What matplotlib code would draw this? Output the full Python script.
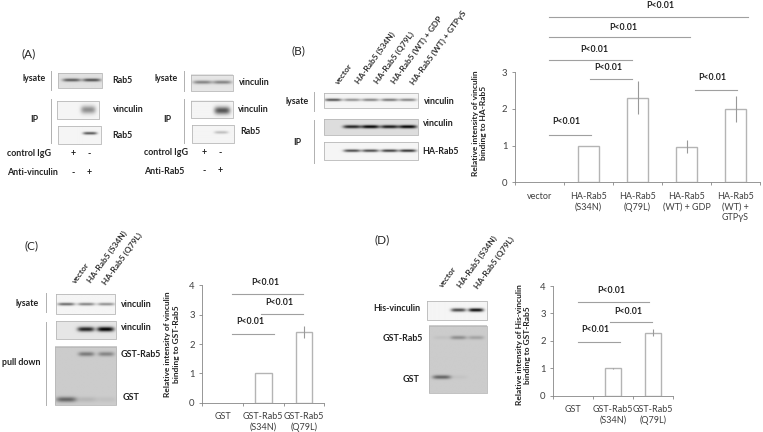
import numpy as np
import matplotlib
matplotlib.use('Agg')
from matplotlib import pyplot as plt

plt.rcParams['font.family'] = ['Lato', 'DejaVu Sans']

W, H = 763, 432

# bar chart data
cats_b = ['vector', 'HA-Rab5\n(S34N)', 'HA-Rab5\n(Q79L)', 'HA-Rab5\n(WT) + GDP', 'HA-Rab5\n(WT) +\nGTPγS']
vals_b = [0, 1.0, 2.3, 0.97, 2.0]
errs_b = [0, 0, 0.45, 0.18, 0.35]
cats_c = ['GST', 'GST-Rab5\n(S34N)', 'GST-Rab5\n(Q79L)']
vals_c = [0, 1.0, 2.4]
errs_c = [0, 0, 0.2]
vals_d = [0, 1.0, 2.3]
errs_d = [0, 0.01, 0.12]

# lane labels above the blots
lanes_b = ['vector', 'HA-Rab5 (S34N)', 'HA-Rab5 (Q79L)', 'HA-Rab5 (WT) + GDP', 'HA-Rab5 (WT) + GTPγS']
lanes_c = ['vector', 'HA-Rab5 (S34N)', 'HA-Rab5 (Q79L)']

# band strengths per lane
a1_lysate = [0.6, 0.65]
a1_vinc = [0, 0.42]
a1_rab = [0, 0.65]
a2_lysate = [0.42, 0.42]
a2_vinc = [0, 0.65]
a2_rab = [0, 0.22]
b_lysate = [0.65, 0.4, 0.45, 0.5, 0.45]
b_vinc = [0, 0.85, 1.0, 0.9, 1.0]
b_ha = [0, 0.7, 0.7, 0.75, 0.8]
c_lysate = [0.55, 0.45, 0.4]
c_vinc = [0, 0.85, 1.0]
c_rab = [0, 0.4, 0.35]
c_gst = [0.5, 0.1, 0.05]
d_his = [0, 0.7, 0.95]
d_rab = [0.05, 0.3, 0.2]
d_gst = [0.5, 0.04, 0]

fig = plt.figure(figsize=(W / 100, H / 100), dpi=100)
px = fig.add_axes([0, 0, 1, 1], zorder=5)
px.set_xlim(0, W)
px.set_ylim(H, 0)
px.axis('off')
px.patch.set_alpha(0)


def blot(x0, x1, y0, y1, rows, bg=0.96):
    # rows: (lane centres, strengths, band y, half width, half height)
    nx, ny = int((x1 - x0) * 2), int((y1 - y0) * 2)
    xx, yy = np.meshgrid(np.linspace(x0, x1, nx), np.linspace(y0, y1, ny))
    img = np.full(xx.shape, bg)
    for lanes, vals, yc, hw, hh in rows:
        for cx, v in zip(lanes, vals):
            prof = np.exp(-((xx - cx) / hw) ** 4) * np.exp(-((yy - yc) / hh) ** 2)
            img -= v * bg * prof
    px.imshow(np.clip(img, 0, 1), extent=(x0, x1, y1, y0), cmap='gray', vmin=0, vmax=1,
              aspect='auto', interpolation='bilinear')
    px.plot([x0, x1, x1, x0, x0], [y0, y0, y1, y1, y0], color='#b8b8b8', lw=0.6)
    px.set_xlim(0, W)
    px.set_ylim(H, 0)


def label(x, y, s, size=6.4, weight='bold', color='#222222', ha='center'):
    px.text(x, y, s, fontsize=size, fontweight=weight, color=color, ha=ha, va='center')


def sep(x, y0, y1):
    px.plot([x, x], [y0, y1], color='#b0b0b0', lw=0.7)


def lane_labels(names, xs, ys, rot=54):
    for n, x, y in zip(names, xs, ys):
        px.text(x, y, n, fontsize=6.0, fontweight='bold', color='#333333', rotation=rot,
                rotation_mode='anchor', ha='left', va='bottom')


def pval(x, y, x0, x1, yl):
    label(x, y, 'P<0.01', size=6.3)
    px.plot([x0, x1], [yl, yl], color='#a0a0a0', lw=0.8)


def chart(x0, x1, y0, ytop, ymax, cats, vals, errs, ylab, labx, laby):
    ax = fig.add_axes([x0 / W, 1 - y0 / H, (x1 - x0) / W, (y0 - ytop) / H])
    n = len(cats)
    for i in range(n):
        if vals[i] > 0:
            ax.bar(i, vals[i], width=0.41, color='white', edgecolor='#b4b4b4', lw=1.0)
        if errs[i] > 0:
            ax.errorbar(i, vals[i], yerr=errs[i], color='#999999', lw=0.8, capsize=0)
    ax.set_xlim(-0.5, n - 0.5)
    ax.set_ylim(0, ymax)
    ax.set_yticks(range(ymax + 1))
    ax.set_xticks(np.arange(n + 1) - 0.5)
    ax.set_xticklabels([])
    ax.set_xticks(range(n), cats, minor=True)
    ax.tick_params(axis='x', which='minor', length=0, labelsize=6.5, labelcolor='#404040', pad=7)
    ax.tick_params(axis='both', which='major', length=2.5, width=0.6, color='#868686')
    ax.tick_params(axis='y', labelsize=6.8, labelcolor='#404040', pad=3)
    for s in ['top', 'right']:
        ax.spines[s].set_visible(False)
    for s in ['left', 'bottom']:
        ax.spines[s].set_color('#868686')
        ax.spines[s].set_linewidth(0.6)
    px.text(labx, laby, ylab, fontsize=6.0, fontweight='bold', color='#222222', rotation=90,
            ha='center', va='center', linespacing=1.25)
    return ax


# panel A
label(28.3, 53.5, '(A)', size=8.5, weight='normal')
blot(58.3, 101.7, 73.3, 88.3, [([71.7, 91.7], a1_lysate, 80.3, 9, 1.6)], bg=0.88)
blot(57.3, 99.3, 101.3, 119.3, [([71.7, 88.7], a1_vinc, 110, 7.5, 4)])
blot(58.3, 100.7, 126.3, 144.3, [([71.7, 90], a1_rab, 133.5, 7, 1.4)])
label(34, 78.7, 'lysate')
label(34, 120, 'IP')
label(122.7, 80.7, 'Rab5')
label(128, 109, 'vinculin')
label(122.7, 135.7, 'Rab5')
sep(51.3, 71, 90)
sep(51.3, 99.3, 142.7)
label(29, 153.3, 'control IgG')
label(32.3, 172.3, 'Anti-vinculin')
for x, a, b in [(73, '+', '-'), (88.7, '-', '+')]:
    label(x, 153.5, a)
    label(x, 172.5, b)

blot(191.3, 233.3, 74.7, 91.3, [([202.7, 222.7], a2_lysate, 82.7, 9.5, 1.8)], bg=0.9)
blot(191.3, 233.3, 100.7, 118.3, [([202.7, 222.7], a2_vinc, 111, 8, 3.8)])
blot(192.3, 234.3, 124.7, 142.7, [([202.7, 221.7], a2_rab, 132, 7, 1.5)])
label(166, 78.7, 'lysate')
label(167, 120, 'IP')
label(254, 82.7, 'vinculin')
label(253.7, 109.3, 'vinculin')
label(250.7, 132, 'Rab5')
sep(184.3, 71.3, 90.7)
sep(184.3, 99.3, 142.7)
label(165.7, 152.3, 'control IgG')
label(164, 171, 'Anti-Rab5')
for x, a, b in [(204, '+', '-'), (220.3, '-', '+')]:
    label(x, 152.3, a)
    label(x, 171, b)

# panel B
label(298.7, 51, '(B)', size=8.5, weight='normal')
lanes5 = [333.3, 352.3, 370.7, 390, 408.3]
blot(324.3, 418.3, 93, 107.7, [(lanes5, b_lysate, 99.7, 8.5, 1.4)])
blot(324.3, 418.3, 119.3, 135.3, [(lanes5, b_vinc, 127, 9, 1.7)], bg=0.87)
blot(324.3, 418.3, 142.3, 160.3, [(lanes5, b_ha, 151, 8.5, 1.4)])
lane_labels(lanes_b, [340, 360, 379, 396, 415], [86, 85, 85, 85, 86])
label(296.7, 101, 'lysate')
label(297.3, 142.7, 'IP')
label(439.3, 101, 'vinculin')
label(438.7, 123.7, 'vinculin')
label(440.7, 151.7, 'HA-Rab5')
sep(314.3, 91.7, 110.7)
sep(314.3, 120, 163.3)

chart(515, 760, 182.3, 72.3, 3, cats_b, vals_b, errs_b,
      'Relative intensity of vinculin\nbinding to HA-Rab5', 479.5, 123)
pval(566.7, 122, 549, 590.7, 135.3)
pval(608, 68, 590, 632, 79.3)
pval(594, 49, 549, 632, 60.3)
pval(623, 27.7, 549, 690, 37.3)
pval(660, 6, 549, 748, 17)
pval(712.7, 77.7, 695, 737, 90.3)

# panel C
label(31.7, 246, '(C)', size=8.5, weight='normal')
lanes3c = [66, 86, 105.7]
blot(56, 115.3, 294.3, 314, [(lanes3c, c_lysate, 304.3, 8.5, 1.5)])
blot(56, 116, 321.3, 339.3, [(lanes3c, c_vinc, 329.5, 8.5, 2.4)], bg=0.9)
blot(55, 116.3, 346.7, 405.3, [(lanes3c, c_rab, 354.5, 8, 2.2), (lanes3c, c_gst, 400, 10, 2.6)], bg=0.8)
lane_labels(lanes_c, [77, 92, 107], [284.3, 284, 285.7])
label(27, 303.7, 'lysate')
label(21, 362.3, 'pull down')
label(136.7, 304.3, 'vinculin')
label(136, 328, 'vinculin')
label(141, 354.3, 'GST-Rab5')
label(131.3, 398, 'GST')
sep(46.3, 293.3, 312.3)
sep(46.3, 322.3, 405)

chart(202.3, 324.3, 402.7, 285.3, 4, cats_c, vals_c, errs_c,
      'Relative intensity of vinculin\nbinding to GST-Rab5', 172, 344)
pval(250, 321, 232, 274.3, 334.3)
pval(279.7, 302.7, 261, 302.7, 314.3)
pval(265.7, 282.3, 232, 302.7, 294.3)

# panel D
label(381.7, 240, '(D)', size=8.5, weight='normal')
lanes3d = [441.7, 458.5, 476]
blot(427.3, 486.7, 301, 320, [(lanes3d, d_his, 310, 7.5, 1.8)])
blot(429.3, 486.7, 326, 393.3, [(lanes3d, d_rab, 338.3, 8, 1.9), (lanes3d, d_gst, 377.7, 9, 2)], bg=0.8)
lane_labels(lanes_c, [444, 462, 479], [289, 289, 290])
label(396.7, 308.3, 'His-vinculin')
label(403.3, 338.3, 'GST-Rab5')
label(411.3, 379, 'GST')

chart(553.3, 672.7, 395.7, 286, 4, cats_c, vals_d, errs_d,
      'Relative intensity of His-vinculin\nbinding to GST-Rab5', 523.5, 345)
pval(595.7, 329, 578, 620, 342.3)
pval(628, 312, 610, 651.7, 322.3)
pval(611.7, 290.3, 578, 649, 302.3)

fig.savefig('out.png', dpi=100)
